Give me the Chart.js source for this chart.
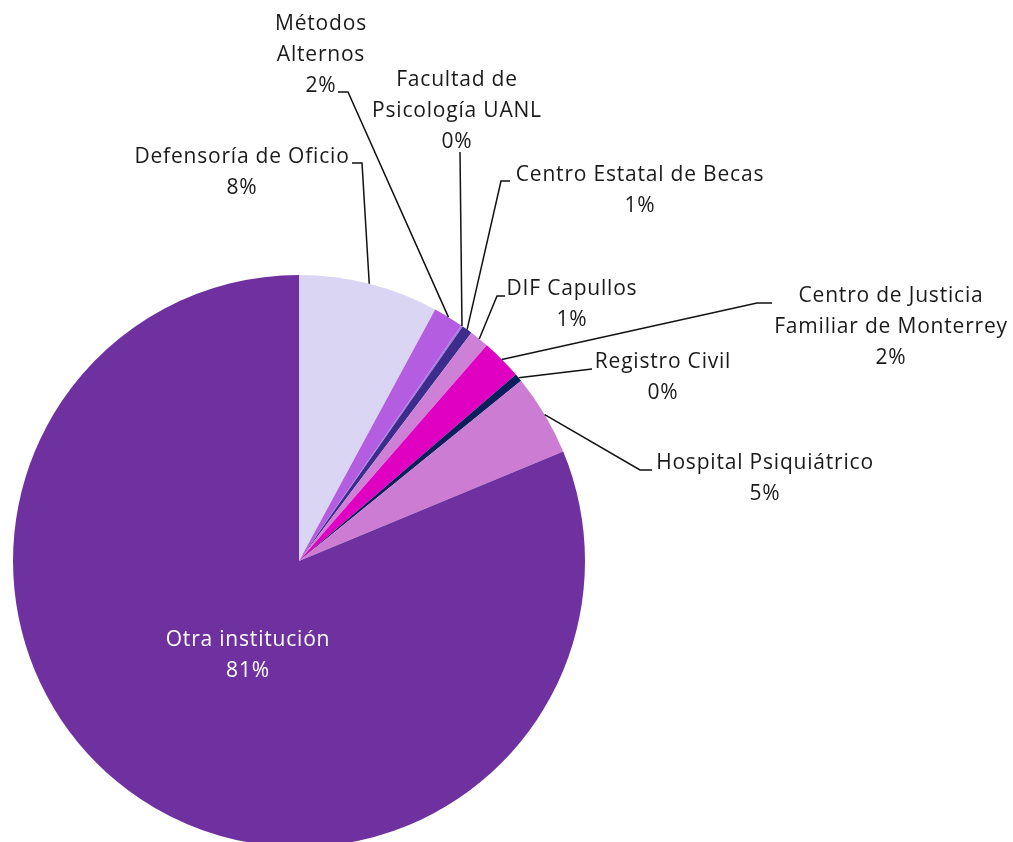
<!DOCTYPE html>
<html>
<head>
<meta charset="utf-8">
<script src="https://cdn.jsdelivr.net/npm/chart.js@4/dist/chart.umd.min.js"></script>
<style>
  html, body { margin: 0; padding: 0; background: #fff; overflow: hidden; }
  #wrap { position: relative; width: 1013px; height: 860px; }
</style>
</head>
<body>
<div id="wrap"><canvas id="pieChart" width="1013" height="860"></canvas></div>
<script>
// data
const categories = [
  'Defensoría de Oficio',
  'Métodos Alternos',
  'Facultad de Psicología UANL',
  'Centro Estatal de Becas',
  'DIF Capullos',
  'Centro de Justicia Familiar de Monterrey',
  'Registro Civil',
  'Hospital Psiquiátrico',
  'Otra institución'
];
const nameLines = [
  ['Defensoría de Oficio'],
  ['Métodos', 'Alternos'],
  ['Facultad de', 'Psicología UANL'],
  ['Centro Estatal de Becas'],
  ['DIF Capullos'],
  ['Centro de Justicia', 'Familiar de Monterrey'],
  ['Registro Civil'],
  ['Hospital Psiquiátrico'],
  ['Otra institución']
];
const values = [7.9, 1.7, 0.1, 0.6, 1.1, 2.3, 0.45, 4.6, 81.25];
const colors = ['#dad5f2', '#b45de0', '#a47ae6', '#3c2d8c', '#ce80d6', '#df00c2', '#0c1f5c', '#cc7dd3', '#6f31a0'];

// label placement (text block centre x, first line y, leader elbow points from text towards the pie)
const labelLayout = [
  { cx: 242, y: 157, elbow: [[352, 163], [362, 163]] },
  { cx: 321, y: 24, elbow: [[338, 92], [348, 92]] },
  { cx: 457, y: 80, elbow: [[460, 152]] },
  { cx: 640, y: 175, elbow: [[510, 181], [501, 181]] },
  { cx: 572, y: 289, elbow: [[505, 296], [497, 296]] },
  { cx: 891, y: 296, elbow: [[772, 303], [757, 303]] },
  { cx: 663, y: 362, elbow: [[592, 369]] },
  { cx: 765, y: 463, elbow: [[652, 470], [640, 470]] },
  { cx: 248, y: 640, elbow: null, color: '#ffffff' }
];

const FONT = '21px "Open Sans", sans-serif';
const LINE_H = 31;

const calloutPlugin = {
  id: 'callouts',
  afterDraw(chart) {
    const ctx = chart.ctx;
    const meta = chart.getDatasetMeta(0);
    ctx.save();
    meta.data.forEach((arc, i) => {
      const lay = labelLayout[i];
      const p = arc.getProps(['x', 'y', 'startAngle', 'endAngle', 'outerRadius'], true);
      const mid = (p.startAngle + p.endAngle) / 2;
      if (lay.elbow) {
        const ex = p.x + Math.cos(mid) * p.outerRadius;
        const ey = p.y + Math.sin(mid) * p.outerRadius;
        ctx.beginPath();
        ctx.strokeStyle = '#111';
        ctx.lineWidth = 1.5;
        ctx.moveTo(ex, ey);
        for (let k = lay.elbow.length - 1; k >= 0; k--) {
          ctx.lineTo(lay.elbow[k][0], lay.elbow[k][1]);
        }
        ctx.stroke();
      }
      const lines = nameLines[i].concat([Math.round(values[i]) + '%']);
      ctx.font = FONT;
      ctx.letterSpacing = '0.8px';
      ctx.fillStyle = lay.color || '#1a1a1a';
      ctx.textAlign = 'center';
      ctx.textBaseline = 'middle';
      lines.forEach((t, j) => ctx.fillText(t, lay.cx, lay.y + j * LINE_H));
    });
    ctx.restore();
  }
};

document.addEventListener('DOMContentLoaded', () => {
  const ctx = document.getElementById('pieChart');
  new Chart(ctx, {
    type: 'pie',
    data: {
      labels: categories,
      datasets: [{
        data: values,
        backgroundColor: colors,
        borderWidth: 0
      }]
    },
    options: {
      responsive: false,
      animation: false,
      layout: { padding: { left: 13, top: 275, right: 428, bottom: 13 } },
      plugins: {
        legend: { display: false },
        tooltip: { enabled: false }
      }
    },
    plugins: [calloutPlugin]
  });
});
</script>
</body>
</html>
